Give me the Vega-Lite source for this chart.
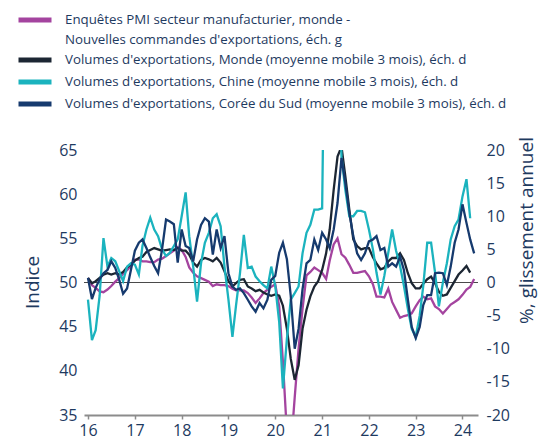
{
  "$schema": "https://vega.github.io/schema/vega-lite/v6.json",
  "width": 394,
  "height": 265,
  "autosize": {"type": "none"},
  "padding": {"left": 84, "top": 150, "right": 66, "bottom": 25},
  "config": {
    "view": {"stroke": null},
    "font": "Open Sans",
    "style": {"guide-label": {"lineHeight": 20}},
    "axis": {"labelColor": "#1e3a5f", "titleColor": "#1e3a5f", "labelFontSize": 16, "titleFontSize": 19, "titleFontWeight": "normal", "grid": false},
    "legend": {
      "orient": "none",
      "symbolType": "stroke", "symbolStrokeWidth": 5, "symbolSize": 1089,
      "labelFontSize": 13.3, "labelColor": "#1e3a5f", "labelLimit": 700, "labelOffset": 11
    }
  },
  "data": {"values": [
    {"d":"2016-01","pmi":50.5,"monde":0.7,"chine":-2.6,"coree":0.7},
    {"d":"2016-02","pmi":49.7,"monde":-0.1,"chine":-8.7,"coree":-2.5},
    {"d":"2016-03","pmi":49.4,"monde":0.2,"chine":-7.2,"coree":-0.8},
    {"d":"2016-04","pmi":49.0,"monde":0.7,"chine":-2.0,"coree":0.5},
    {"d":"2016-05","pmi":48.9,"monde":1.2,"chine":6.7,"coree":1.4},
    {"d":"2016-06","pmi":49.2,"monde":1.4,"chine":2.4,"coree":1.9},
    {"d":"2016-07","pmi":49.6,"monde":1.2,"chine":3.7,"coree":3.2},
    {"d":"2016-08","pmi":50.1,"monde":1.4,"chine":3.2,"coree":2.2},
    {"d":"2016-09","pmi":50.5,"monde":1.2,"chine":1.7,"coree":0.4},
    {"d":"2016-10","pmi":51.0,"monde":1.6,"chine":0.2,"coree":-1.7},
    {"d":"2016-11","pmi":51.4,"monde":2.3,"chine":2.4,"coree":-0.9},
    {"d":"2016-12","pmi":51.9,"monde":2.7,"chine":2.9,"coree":1.9},
    {"d":"2017-01","pmi":52.6,"monde":3.3,"chine":2.7,"coree":4.8},
    {"d":"2017-02","pmi":52.6,"monde":3.7,"chine":1.2,"coree":6.0},
    {"d":"2017-03","pmi":52.4,"monde":3.9,"chine":5.5,"coree":6.5},
    {"d":"2017-04","pmi":52.4,"monde":4.6,"chine":8.0,"coree":5.2},
    {"d":"2017-05","pmi":52.3,"monde":4.9,"chine":9.8,"coree":3.8},
    {"d":"2017-06","pmi":52.3,"monde":5.2,"chine":8.0,"coree":2.5},
    {"d":"2017-07","pmi":52.6,"monde":5.0,"chine":7.0,"coree":1.4},
    {"d":"2017-08","pmi":52.7,"monde":4.8,"chine":5.0,"coree":5.0},
    {"d":"2017-09","pmi":53.0,"monde":4.9,"chine":4.0,"coree":9.5},
    {"d":"2017-10","pmi":53.3,"monde":5.0,"chine":4.5,"coree":9.2},
    {"d":"2017-11","pmi":53.6,"monde":4.9,"chine":5.5,"coree":8.8},
    {"d":"2017-12","pmi":54.0,"monde":5.2,"chine":6.5,"coree":3.0},
    {"d":"2018-01","pmi":53.7,"monde":4.8,"chine":10.0,"coree":8.0},
    {"d":"2018-02","pmi":52.9,"monde":4.8,"chine":13.6,"coree":5.5},
    {"d":"2018-03","pmi":51.7,"monde":4.2,"chine":7.0,"coree":5.2},
    {"d":"2018-04","pmi":51.1,"monde":3.0,"chine":2.4,"coree":3.2},
    {"d":"2018-05","pmi":50.7,"monde":2.4,"chine":-2.9,"coree":6.5},
    {"d":"2018-06","pmi":50.5,"monde":3.4,"chine":2.9,"coree":8.7},
    {"d":"2018-07","pmi":50.3,"monde":3.7,"chine":6.0,"coree":9.7},
    {"d":"2018-08","pmi":50.1,"monde":3.5,"chine":7.5,"coree":9.2},
    {"d":"2018-09","pmi":49.6,"monde":3.2,"chine":9.7,"coree":4.2},
    {"d":"2018-10","pmi":49.8,"monde":3.7,"chine":10.3,"coree":8.0},
    {"d":"2018-11","pmi":49.7,"monde":3.0,"chine":8.5,"coree":5.2},
    {"d":"2018-12","pmi":49.7,"monde":1.7,"chine":2.4,"coree":7.0},
    {"d":"2019-01","pmi":49.6,"monde":0.2,"chine":-2.6,"coree":1.4},
    {"d":"2019-02","pmi":49.3,"monde":-0.6,"chine":-8.2,"coree":-0.6},
    {"d":"2019-03","pmi":49.1,"monde":-0.1,"chine":-3.5,"coree":-1.1},
    {"d":"2019-04","pmi":49.1,"monde":0.4,"chine":1.4,"coree":-0.9},
    {"d":"2019-05","pmi":49.1,"monde":0.5,"chine":7.2,"coree":-1.6},
    {"d":"2019-06","pmi":48.8,"monde":-0.6,"chine":2.2,"coree":-2.6},
    {"d":"2019-07","pmi":48.3,"monde":-0.9,"chine":2.4,"coree":-3.6},
    {"d":"2019-08","pmi":47.7,"monde":-1.3,"chine":0.9,"coree":-4.4},
    {"d":"2019-09","pmi":48.2,"monde":-1.1,"chine":0.2,"coree":-3.1},
    {"d":"2019-10","pmi":48.8,"monde":-1.5,"chine":-0.4,"coree":-3.9},
    {"d":"2019-11","pmi":49.2,"monde":-1.8,"chine":-0.9,"coree":-2.6},
    {"d":"2019-12","pmi":49.5,"monde":-2.0,"chine":2.4,"coree":0.4},
    {"d":"2020-01","pmi":49.8,"monde":-1.8,"chine":-0.5,"coree":1.0},
    {"d":"2020-02","pmi":47.3,"monde":-2.0,"chine":-6.0,"coree":4.5},
    {"d":"2020-03","pmi":41.0,"monde":-3.5,"chine":-16.0,"coree":6.0},
    {"d":"2020-04","pmi":33.0,"monde":-7.0,"chine":-8.5,"coree":3.5},
    {"d":"2020-05","pmi":31.0,"monde":-11.5,"chine":-2.6,"coree":-2.0},
    {"d":"2020-06","pmi":37.0,"monde":-14.7,"chine":-1.6,"coree":-10.0},
    {"d":"2020-07","pmi":42.5,"monde":-12.5,"chine":-0.6,"coree":-7.0},
    {"d":"2020-08","pmi":47.0,"monde":-7.0,"chine":4.4,"coree":-1.0},
    {"d":"2020-09","pmi":50.8,"monde":-4.1,"chine":7.5,"coree":2.9},
    {"d":"2020-10","pmi":51.2,"monde":-2.1,"chine":8.7,"coree":3.4},
    {"d":"2020-11","pmi":51.7,"monde":-0.6,"chine":11.0,"coree":6.5},
    {"d":"2020-12","pmi":51.4,"monde":0.2,"chine":11.0,"coree":4.9},
    {"d":"2021-01","pmi":51.1,"monde":1.9,"chine":11.2,"coree":7.5},
    {"d":"2021-02","pmi":50.4,"monde":4.4,"chine":60,"coree":6.5},
    {"d":"2021-03","pmi":52.5,"monde":8.0,"chine":70,"coree":5.2},
    {"d":"2021-04","pmi":54.3,"monde":14.0,"chine":55,"coree":8.0},
    {"d":"2021-05","pmi":55.0,"monde":19.0,"chine":40,"coree":12.0},
    {"d":"2021-06","pmi":53.2,"monde":20.5,"chine":19.0,"coree":18.8},
    {"d":"2021-07","pmi":52.8,"monde":16.0,"chine":14.0,"coree":15.0},
    {"d":"2021-08","pmi":52.0,"monde":11.0,"chine":10.0,"coree":10.5},
    {"d":"2021-09","pmi":51.1,"monde":6.5,"chine":10.0,"coree":7.0},
    {"d":"2021-10","pmi":51.1,"monde":5.5,"chine":10.8,"coree":4.4},
    {"d":"2021-11","pmi":51.2,"monde":5.0,"chine":10.8,"coree":3.4},
    {"d":"2021-12","pmi":51.3,"monde":5.2,"chine":10.6,"coree":4.4},
    {"d":"2022-01","pmi":50.7,"monde":5.2,"chine":8.0,"coree":6.2},
    {"d":"2022-02","pmi":49.8,"monde":3.8,"chine":5.0,"coree":6.5},
    {"d":"2022-03","pmi":48.4,"monde":2.9,"chine":1.5,"coree":7.0},
    {"d":"2022-04","pmi":48.4,"monde":2.0,"chine":-1.8,"coree":4.9},
    {"d":"2022-05","pmi":48.3,"monde":2.2,"chine":1.0,"coree":5.2},
    {"d":"2022-06","pmi":49.3,"monde":3.2,"chine":4.5,"coree":2.4},
    {"d":"2022-07","pmi":47.8,"monde":3.7,"chine":8.0,"coree":2.9},
    {"d":"2022-08","pmi":46.9,"monde":3.7,"chine":4.8,"coree":2.4},
    {"d":"2022-09","pmi":46.0,"monde":4.4,"chine":2.5,"coree":3.9},
    {"d":"2022-10","pmi":46.2,"monde":3.4,"chine":-0.5,"coree":1.9},
    {"d":"2022-11","pmi":46.3,"monde":1.4,"chine":-4.0,"coree":-2.6},
    {"d":"2022-12","pmi":46.5,"monde":-0.1,"chine":-7.0,"coree":-6.7},
    {"d":"2023-01","pmi":47.3,"monde":-0.9,"chine":-8.2,"coree":-8.4},
    {"d":"2023-02","pmi":48.0,"monde":-0.9,"chine":-5.0,"coree":-6.7},
    {"d":"2023-03","pmi":48.4,"monde":-0.2,"chine":-0.5,"coree":-3.4},
    {"d":"2023-04","pmi":48.1,"monde":0.5,"chine":6.0,"coree":-1.9},
    {"d":"2023-05","pmi":48.2,"monde":0.9,"chine":6.0,"coree":-1.9},
    {"d":"2023-06","pmi":47.3,"monde":-0.1,"chine":1.5,"coree":1.4},
    {"d":"2023-07","pmi":47.0,"monde":-1.4,"chine":-3.6,"coree":1.5},
    {"d":"2023-08","pmi":46.5,"monde":-2.0,"chine":0.0,"coree":1.4},
    {"d":"2023-09","pmi":47.0,"monde":-1.8,"chine":2.9,"coree":-0.4},
    {"d":"2023-10","pmi":47.5,"monde":-0.8,"chine":6.5,"coree":2.4},
    {"d":"2023-11","pmi":47.8,"monde":0.2,"chine":8.5,"coree":6.0},
    {"d":"2023-12","pmi":48.1,"monde":1.2,"chine":9.5,"coree":8.0},
    {"d":"2024-01","pmi":48.6,"monde":1.8,"chine":13.0,"coree":11.8},
    {"d":"2024-02","pmi":49.2,"monde":2.5,"chine":15.6,"coree":9.0},
    {"d":"2024-03","pmi":49.5,"monde":1.5,"chine":9.7,"coree":6.5},
    {"d":"2024-04","pmi":50.4,"monde":null,"chine":null,"coree":4.4}
  ]},
  "encoding": {
    "x": {"field": "d", "type": "temporal",
      "scale": {"type": "utc", "domain": [{"year": 2015, "month": 12, "date": 1, "utc": true}, {"year": 2024, "month": 5, "date": 1, "utc": true}]},
      "axis": {"format": "%y", "title": null, "values": [{"year":2016,"utc":true},{"year":2017,"utc":true},{"year":2018,"utc":true},{"year":2019,"utc":true},{"year":2020,"utc":true},{"year":2021,"utc":true},{"year":2022,"utc":true},{"year":2023,"utc":true},{"year":2024,"utc":true}],
        "domainColor": "#8c8c8c", "domainWidth": 2, "tickColor": "#8c8c8c", "tickSize": 4, "tickWidth": 1.5, "labelPadding": 3}}
  },
  "layer": [
    {
      "layer": [
        {
          "mark": {"type": "rule", "color": "#4a4a4a", "strokeWidth": 1.2},
          "encoding": {"x": null, "y": {"datum": 50, "type": "quantitative", "scale": {"domain": [35, 65]}}}
        },
        {
          "mark": {"type": "line", "strokeWidth": 2.3, "clip": true},
          "encoding": {
            "y": {"field": "pmi", "type": "quantitative", "scale": {"domain": [35, 65]},
              "axis": {"orient": "left", "values": [35, 40, 45, 50, 55, 60, 65], "domain": false, "ticks": false, "labelPadding": 7, "labelAlign": "right",
                "title": "Indice", "titleAngle": 270, "titleX": -52, "titleY": 132, "titleBaseline": "middle", "titleAlign": "center"}},
            "color": {"datum": "pmi", "type": "nominal",
              "scale": {"domain": ["pmi"], "range": ["#a4449f"]},
              "legend": {"title": null, "legendX": -68, "legendY": -149,
                "labelExpr": "['Enquêtes PMI secteur manufacturier, monde -', \"Nouvelles commandes d'exportations, éch. g\"]"}}
          }
        }
      ]
    },
    {
      "layer": [
        {
          "mark": {"type": "line", "strokeWidth": 2.3, "clip": true},
          "encoding": {
            "y": {"field": "monde", "type": "quantitative", "scale": {"domain": [-20, 20]},
              "axis": {"orient": "right", "values": [-20, -15, -10, -5, 0, 5, 10, 15, 20], "domain": false, "ticks": false, "labelPadding": 8, "labelAlign": "left",
                "labelExpr": "'' + datum.value",
                "title": "%, glissement annuel", "titleAngle": 270, "titleX": 48, "titleY": 80, "titleBaseline": "middle", "titleAlign": "center"}},
            "color": {"datum": "Volumes d'exportations, Monde (moyenne mobile 3 mois), éch. d", "type": "nominal",
              "scale": {"range": ["#1c2633"]},
              "legend": {"title": null, "legendX": -68, "legendY": -109}}
          }
        },
        {
          "mark": {"type": "line", "strokeWidth": 2.3, "clip": true},
          "encoding": {
            "y": {"field": "chine", "type": "quantitative", "scale": {"domain": [-20, 20]},
              "axis": {"orient": "right", "values": [-20, -15, -10, -5, 0, 5, 10, 15, 20], "domain": false, "ticks": false, "labelPadding": 8, "labelAlign": "left",
                "labelExpr": "'' + datum.value",
                "title": "%, glissement annuel", "titleAngle": 270, "titleX": 48, "titleY": 80, "titleBaseline": "middle", "titleAlign": "center"}},
            "color": {"datum": "Volumes d'exportations, Chine (moyenne mobile 3 mois), éch. d", "type": "nominal",
              "scale": {"range": ["#1bb3be"]},
              "legend": {"title": null, "legendX": -68, "legendY": -87}}
          }
        },
        {
          "mark": {"type": "line", "strokeWidth": 2.3, "clip": true},
          "encoding": {
            "y": {"field": "coree", "type": "quantitative", "scale": {"domain": [-20, 20]},
              "axis": {"orient": "right", "values": [-20, -15, -10, -5, 0, 5, 10, 15, 20], "domain": false, "ticks": false, "labelPadding": 8, "labelAlign": "left",
                "labelExpr": "'' + datum.value",
                "title": "%, glissement annuel", "titleAngle": 270, "titleX": 48, "titleY": 80, "titleBaseline": "middle", "titleAlign": "center"}},
            "color": {"datum": "Volumes d'exportations, Corée du Sud (moyenne mobile 3 mois), éch. d", "type": "nominal",
              "scale": {"range": ["#163a6e"]},
              "legend": {"title": null, "legendX": -68, "legendY": -65}}
          }
        }
      ],
      "resolve": {"scale": {"color": "independent"}}
    }
  ],
  "resolve": {"scale": {"y": "independent", "color": "independent"}}
}
